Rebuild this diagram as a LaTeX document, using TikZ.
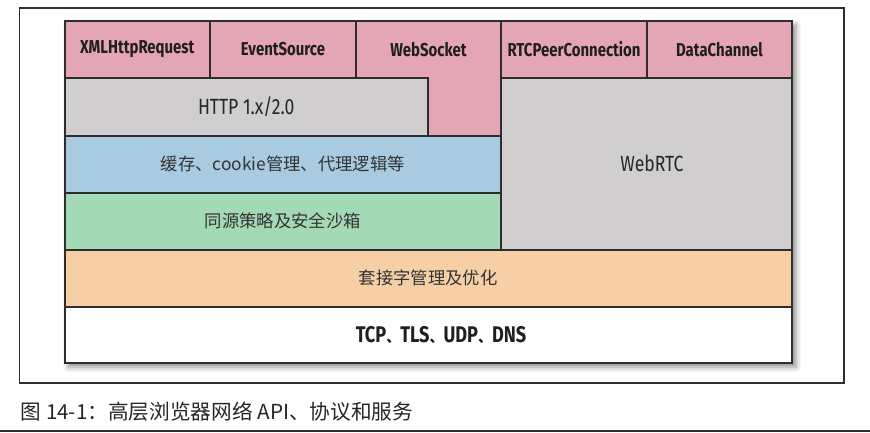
\documentclass[tikz,border=0pt]{standalone}
\usepackage{fontspec}
\usepackage{tikz}
\usetikzlibrary{shadows.blur}
\usepackage{xcolor}
\newfontfamily\cjk{Noto Sans CJK SC}
\newfontfamily\apifont[FakeStretch=0.8]{Fira Sans}
\newcommand\sepmark{{\cjk\fontsize{10.5}{12}\selectfont 、}}
\definecolor{apipink}{RGB}{228,166,180}
\definecolor{stackgray}{RGB}{208,206,207}
\definecolor{cacheblue}{RGB}{168,203,225}
\definecolor{origingreen}{RGB}{163,217,182}
\definecolor{sockorange}{RGB}{246,207,166}
\definecolor{edgegray}{RGB}{45,45,45}

\begin{document}
\begin{tikzpicture}[x=0.75pt, y=-0.75pt,
  cell/.style={draw=edgegray, line width=1.5pt},
  apilabel/.style={font=\apifont\bfseries\fontsize{14}{16}\selectfont, text=black!88},
  stacklabel/.style={font=\apifont\fontsize{16.5}{18}\selectfont, text=black!85},
  cjklabel/.style={font=\cjk\fontsize{13}{15}\selectfont, text=black!80}]
\useasboundingbox (0,0) rectangle (870,432);
\draw[line width=0.9pt, edgegray] (19.5,8) rectangle (844,383);
\fill[white, blur shadow={shadow xshift=3pt, shadow yshift=-3pt, shadow blur radius=4pt, shadow opacity=45}] (64.5,21) rectangle (792,363);
\draw[cell, fill=apipink] (64.5,21) rectangle (210,78) node[midway, apilabel] (xhr) {XMLHttpRequest};
\draw[cell, fill=apipink] (210,21) rectangle (356,78) node[midway, apilabel] (evsrc) {EventSource};
\draw[cell, fill=apipink] (356,21) -- (501,21) -- (501,135.5) -- (428,135.5) -- (428,78) -- (356,78) -- cycle;
\node[apilabel] (wsock) at (428.5,49.5) {WebSocket};
\draw[cell, fill=apipink] (501,21) rectangle (647,78) node[midway, apilabel] (rtcpc) {RTCPeerConnection};
\draw[cell, fill=apipink] (647,21) rectangle (792,78) node[midway, apilabel] (datach) {DataChannel};
\draw[cell, fill=stackgray] (64.5,78) rectangle (428,135.5) node[midway, stacklabel] (http) {HTTP 1.x/2.0};
\draw[cell, fill=cacheblue] (64.5,135.5) rectangle (501,192.5) node[midway, cjklabel] (cache) {缓存、cookie管理、代理逻辑等};
\draw[cell, fill=origingreen] (64.5,192.5) rectangle (501,249.5) node[midway, cjklabel] (sop) {同源策略及安全沙箱};
\draw[cell, fill=stackgray] (501,78) rectangle (792,249.5);
\node[stacklabel] (webrtc) at (652,163.5) {WebRTC};
\draw[cell, fill=sockorange] (64.5,249.5) rectangle (792,306.5) node[midway, cjklabel] (sockmgr) {套接字管理及优化};
\draw[cell, fill=white] (64.5,306.5) rectangle (792,363);
\node[font=\apifont\bfseries\fontsize{17}{19}\selectfont, text=black!88] (transport) at (441,335)
  {TCP\sepmark TLS\sepmark UDP\sepmark DNS};
\node[anchor=west, font=\cjk\fontsize{15.5}{18}\selectfont, text=black!85] (caption) at (16,412)
  {图 14-1：高层浏览器网络 API、协议和服务};
\draw[line width=1.2pt, edgegray] (0,431) -- (870,431);
\end{tikzpicture}
\end{document}
